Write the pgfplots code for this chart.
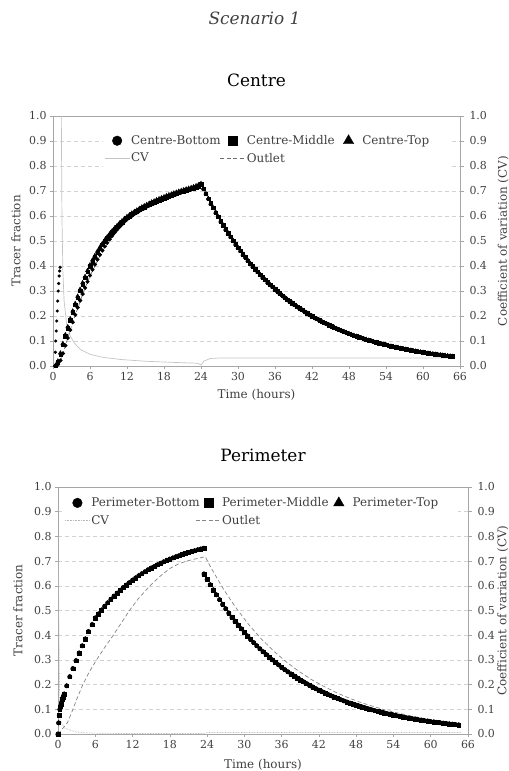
\documentclass[border=0pt]{standalone}
\usepackage{pgfplots}
\pgfplotsset{compat=1.18}
\usepackage{pgfplotstable}
\usepackage{fontspec}
\setmainfont{DejaVu Serif}

\definecolor{axisgray}{HTML}{A6A6A6}
\definecolor{gridgray}{HTML}{D2D2D2}
\definecolor{cvgray}{HTML}{C4C4C4}
\definecolor{outgray}{HTML}{6E6E6E}
\definecolor{outgray2}{HTML}{858585}
\definecolor{textgray}{HTML}{404040}

% Centre: rising part (bottom, middle, top probes)
\pgfplotstableread{
t b m tp
0.4 0.001 0.002 0.003
0.8 0.006 0.015 0.020
1.2 0.022 0.045 0.052
1.6 0.050 0.085 0.090
2.0 0.082 0.120 0.125
2.4 0.112 0.152 0.157
2.8 0.144 0.184 0.189
3.2 0.175 0.215 0.220
3.6 0.205 0.245 0.250
4.0 0.234 0.274 0.279
4.4 0.262 0.302 0.307
4.8 0.288 0.328 0.333
5.2 0.313 0.353 0.358
5.6 0.337 0.377 0.382
6.0 0.362 0.400 0.405
6.4 0.385 0.419 0.424
6.8 0.406 0.437 0.442
7.2 0.426 0.454 0.459
7.6 0.445 0.470 0.475
8.0 0.462 0.485 0.490
8.4 0.478 0.499 0.504
8.8 0.493 0.512 0.517
9.2 0.507 0.524 0.529
9.6 0.521 0.536 0.541
10.0 0.534 0.547 0.552
10.4 0.546 0.557 0.562
10.8 0.557 0.567 0.572
11.2 0.567 0.576 0.581
11.6 0.577 0.585 0.590
12.0 0.586 0.593 0.598
12.4 0.594 0.600 0.605
12.8 0.601 0.607 0.612
13.2 0.608 0.613 0.618
13.6 0.614 0.619 0.624
14.0 0.620 0.625 0.630
14.4 0.626 0.631 0.636
14.8 0.631 0.636 0.641
15.2 0.637 0.641 0.646
15.6 0.642 0.646 0.651
16.0 0.647 0.651 0.656
16.4 0.651 0.655 0.660
16.8 0.656 0.660 0.665
17.2 0.660 0.664 0.669
17.6 0.664 0.668 0.673
18.0 0.668 0.672 0.677
18.4 0.672 0.676 0.681
18.8 0.676 0.680 0.685
19.2 0.680 0.683 0.688
19.6 0.684 0.687 0.692
20.0 0.687 0.690 0.695
20.4 0.691 0.694 0.699
20.8 0.694 0.697 0.702
21.2 0.697 0.700 0.705
21.6 0.700 0.703 0.708
22.0 0.703 0.706 0.711
22.4 0.706 0.709 0.714
22.8 0.709 0.712 0.717
23.2 0.713 0.716 0.721
23.6 0.717 0.720 0.725
24.0 0.726 0.728 0.730
}\cenrise

% Centre: washout after 24 h (all three probes coincide)
\pgfplotstableread{
t v
24.4 .7093
24.8 .6891
25.2 .6696
25.6 .6506
26.0 .6321
26.4 .6142
26.8 .5967
27.2 .5798
27.6 .5633
28.0 .5474
28.4 .5319
28.8 .5168
29.2 .5021
29.6 .4878
30.0 .4740
30.4 .4605
30.8 .4475
31.2 .4348
31.6 .4224
32.0 .4104
32.4 .3988
32.8 .3874
33.2 .3764
33.6 .3657
34.0 .3554
34.4 .3453
34.8 .3355
35.2 .3260
35.6 .3167
36.0 .3077
36.4 .2990
36.8 .2905
37.2 .2822
37.6 .2742
38.0 .2664
38.4 .2589
38.8 .2515
39.2 .2444
39.6 .2374
40.0 .2307
40.4 .2242
40.8 .2178
41.2 .2116
41.6 .2056
42.0 .1998
42.4 .1941
42.8 .1886
43.2 .1832
43.6 .1780
44.0 .1730
44.4 .1681
44.8 .1633
45.2 .1587
45.6 .1542
46.0 .1498
46.4 .1456
46.8 .1414
47.2 .1374
47.6 .1335
48.0 .1297
48.4 .1260
48.8 .1224
49.2 .1190
49.6 .1156
50.0 .1123
50.4 .1091
50.8 .1060
51.2 .1030
51.6 .1001
52.0 .0973
52.4 .0945
52.8 .0919
53.2 .0893
53.6 .0867
54.0 .0843
54.4 .0819
54.8 .0795
55.2 .0773
55.6 .0751
56.0 .0729
56.4 .0708
56.8 .0688
57.2 .0669
57.6 .0650
58.0 .0631
58.4 .0613
58.8 .0596
59.2 .0579
59.6 .0563
60.0 .0547
60.4 .0532
60.8 .0516
61.2 .0502
61.6 .0488
62.0 .0474
62.4 .0460
62.8 .0447
63.2 .0434
63.6 .0422
64.0 .0410
64.4 .0398
64.8 .0387
}\cendecay

% Centre: early steep points near the inlet
\pgfplotstableread{
t v
0.30 0.000
0.38 0.055
0.45 0.100
0.52 0.140
0.60 0.180
0.68 0.220
0.76 0.260
0.84 0.300
0.92 0.330
1.00 0.360
1.08 0.380
1.15 0.395
}\cenearly

\pgfplotstableread{
t v
0.5 0.000
1.0 0.010
1.5 0.040
2.0 0.080
3.0 0.160
4.0 0.230
5.0 0.300
6.0 0.360
8.0 0.460
10.0 0.530
12.0 0.585
15.0 0.640
18.0 0.670
21.0 0.695
24.0 0.725
26.0 0.632
28.0 0.547
30.0 0.474
33.0 0.382
36.0 0.308
40.0 0.231
44.0 0.173
48.0 0.130
52.0 0.097
56.0 0.073
60.0 0.055
64.8 0.039
}\cenoutlet

\pgfplotstableread{
t v
1.35 1.000
1.45 0.600
1.60 0.380
1.80 0.260
2.20 0.170
2.80 0.120
3.50 0.090
4.50 0.065
6.00 0.047
8.00 0.035
11.0 0.026
15.0 0.019
20.0 0.014
23.5 0.011
24.0 0.004
24.5 0.020
25.5 0.030
27.0 0.032
65.0 0.032
}\cencv

% Perimeter probes (the three coincide)
\pgfplotstableread{
t v
0.0 0.000
0.1 0.045
0.2 0.075
0.3 0.100
0.4 0.110
0.5 0.120
0.6 0.130
0.7 0.140
0.8 0.148
0.9 0.155
1.0 0.162
1.4 0.195
1.9 0.232
2.4 0.265
2.9 0.297
3.4 0.328
3.9 0.357
4.4 0.385
4.9 0.415
5.5 0.443
6.0 0.470
6.5 0.486
7.0 0.502
7.5 0.517
8.0 0.531
8.5 0.545
9.0 0.558
9.5 0.570
10.0 0.582
10.5 0.593
11.0 0.603
11.5 0.613
12.0 0.623
12.5 0.632
13.0 0.641
13.5 0.649
14.0 0.657
14.5 0.665
15.0 0.672
15.5 0.678
16.0 0.685
16.5 0.691
17.0 0.697
17.5 0.703
18.0 0.708
18.5 0.713
19.0 0.718
19.5 0.722
20.0 0.727
20.5 0.731
21.0 0.735
21.5 0.739
22.0 0.742
22.5 0.746
23.0 0.749
23.5 0.752
23.5 .6480
24.0 .6257
24.5 .6042
25.0 .5834
25.5 .5634
26.0 .5440
26.5 .5253
27.0 .5072
27.5 .4898
28.0 .4729
28.5 .4567
29.0 .4410
29.5 .4258
30.0 .4112
30.5 .3970
31.0 .3834
31.5 .3702
32.0 .3575
32.5 .3452
33.0 .3333
33.5 .3218
34.0 .3108
34.5 .3001
35.0 .2898
35.5 .2798
36.0 .2702
36.5 .2609
37.0 .2519
37.5 .2433
38.0 .2349
38.5 .2268
39.0 .2190
39.5 .2115
40.0 .2042
40.5 .1972
41.0 .1904
41.5 .1838
42.0 .1775
42.5 .1714
43.0 .1655
43.5 .1598
44.0 .1543
44.5 .1490
45.0 .1439
45.5 .1389
46.0 .1342
46.5 .1295
47.0 .1251
47.5 .1208
48.0 .1166
48.5 .1126
49.0 .1087
49.5 .1050
50.0 .1014
50.5 .0979
51.0 .0945
51.5 .0913
52.0 .0881
52.5 .0851
53.0 .0822
53.5 .0794
54.0 .0766
54.5 .0740
55.0 .0714
55.5 .0690
56.0 .0666
56.5 .0643
57.0 .0621
57.5 .0600
58.0 .0579
58.5 .0559
59.0 .0540
59.5 .0522
60.0 .0504
60.5 .0486
61.0 .0470
61.5 .0453
62.0 .0438
62.5 .0423
63.0 .0408
63.5 .0394
64.0 .0381
64.5 .0368
}\perim

\pgfplotstableread{
t v
0.0 0.000
0.5 0.015
1.0 0.030
1.5 0.045
2.0 0.075
2.4 0.100
3.0 0.140
3.5 0.170
4.0 0.200
5.0 0.250
6.2 0.300
7.5 0.350
8.9 0.400
10.2 0.450
11.5 0.500
13.0 0.550
14.8 0.600
16.5 0.640
18.0 0.670
19.5 0.690
21.0 0.702
22.5 0.711
23.7 0.718
24.7 0.670
26.7 0.584
28.7 0.509
30.7 0.443
32.7 0.386
34.7 0.336
36.7 0.293
38.7 0.255
40.7 0.222
42.7 0.194
44.7 0.169
46.7 0.147
48.7 0.128
50.7 0.112
52.7 0.097
54.7 0.085
56.7 0.074
58.7 0.064
60.7 0.056
62.7 0.049
64.5 0.043
}\perout

\pgfplotstableread{
t v
0.05 0.700
0.3 0.060
1.0 0.025
2.0 0.015
3.0 0.008
5.0 0.004
10.0 0.002
23.5 0.002
24.0 0.006
65.0 0.006
}\percv

\pgfplotsset{
  base/.style={
    scale only axis, anchor=south west,
    xmin=0, xmax=66, ymin=0, ymax=1,
    xtick={0,6,...,66},
    ytick={0,0.1,0.2,0.3,0.4,0.5,0.6,0.7,0.8,0.9,1},
    xtick pos=left, ytick pos=left,
    tick align=outside, major tick length=3bp,
    axis line style={axisgray, line width=0.7bp},
    tick style={axisgray, line width=0.6bp},
    ymajorgrids,
    grid style={gridgray, dash pattern=on 4bp off 3bp, line width=0.5bp},
    /pgf/number format/assume math mode=true,
    y tick label style={/pgf/number format/.cd, fixed, fixed zerofill, precision=1},
    tick label style={font=\fontsize{11}{12}\selectfont, text=textgray},
    label style={font=\fontsize{12}{14}\selectfont, text=textgray},
    xlabel={Time (hours)}, ylabel={Tracer fraction},
    xlabel style={anchor=center}, ylabel style={anchor=center},
    title style={font=\fontsize{17}{20}\selectfont, anchor=center, yshift=-6pt},
    legend columns=3, legend cell align=left,
    legend style={draw=none, fill=white, anchor=north west, inner sep=1bp,
      row sep=3bp,
      font=\fontsize{12}{14}\selectfont, text=textgray,
      /tikz/every even column/.append style={column sep=0bp}},
    clip=false,
  },
  rightax/.style={
    scale only axis, anchor=south west,
    xmin=0, xmax=66, ymin=0, ymax=1,
    axis x line=none, axis y line*=right,
    ytick={0,0.1,0.2,0.3,0.4,0.5,0.6,0.7,0.8,0.9,1},
    tick align=outside, major tick length=4bp,
    axis line style={axisgray, line width=0.7bp},
    tick style={axisgray, line width=0.6bp},
    /pgf/number format/assume math mode=true,
    y tick label style={/pgf/number format/.cd, fixed, fixed zerofill, precision=1},
    tick label style={font=\fontsize{11}{12}\selectfont, text=textgray, xshift=2bp},
    label style={font=\fontsize{12}{14}\selectfont, text=textgray},
    ylabel={Coefficient of variation (CV)},
    ylabel style={anchor=center},
  },
  mleg/.style={legend image code/.code={\path (0bp,0bp) (25bp,0bp); \draw[##1] plot coordinates {(12.5bp,0bp)};}},
  lleg/.style={legend image code/.code={\draw[##1] (0bp,0bp) -- (25bp,0bp);}},
}

\begin{document}
\begin{tikzpicture}
\path[use as bounding box] (0bp,0bp) rectangle (509bp,-771bp);
\node[font=\fontsize{17}{19}\selectfont\itshape, text=textgray] at (254.5bp,-18bp) {Scenario 1};

% ---- Centre ----
\begin{axis}[base, at={(53bp,-366bp)}, width=407bp, height=250bp,
  title={Centre}, title style={at={(0.5,1.144)}},
  xlabel style={at={(axis description cs:0.5,-0.116)}},
  ylabel style={at={(axis description cs:-0.091,0.5)}},
  legend style={at={(0.123,0.935)}, nodes={text width=88bp, inner xsep=1bp, align=left}}]
\addlegendimage{mleg, mark=*, mark size=4.8bp, black}
\addlegendentry{\mbox{Centre-Bottom}}
\addlegendimage{mleg, mark=square*, mark size=4.5bp, black}
\addlegendentry{\mbox{Centre-Middle}}
\addlegendimage{mleg, mark=triangle*, mark size=6bp, black}
\addlegendentry{\mbox{Centre-Top}}
\addlegendimage{lleg, cvgray, line width=0.8bp}
\addlegendentry{CV}
\addlegendimage{lleg, outgray, line width=0.8bp, dash pattern=on 4bp off 2.5bp}
\addlegendentry{Outlet}

\addplot[forget plot, cvgray, line width=0.7bp] table[x=t, y=v] {\cencv};
\addplot[forget plot, outgray, line width=0.7bp, dash pattern=on 4bp off 2.5bp] table[x=t, y=v] {\cenoutlet};

\addplot[forget plot, only marks, mark=*, mark size=1.4bp, black] table[x=t, y=v] {\cenearly};
\addplot[forget plot, only marks, mark=*, mark size=1.9bp, black] table[x=t, y=b] {\cenrise};
\addplot[forget plot, only marks, mark=*, mark size=1.9bp, black] table[x=t, y=v] {\cendecay};
\addplot[forget plot, only marks, mark=square*, mark size=1.7bp, black] table[x=t, y=m] {\cenrise};
\addplot[forget plot, only marks, mark=square*, mark size=1.7bp, black] table[x=t, y=v] {\cendecay};
\addplot[forget plot, only marks, mark=triangle*, mark size=2.4bp, black] table[x=t, y=tp] {\cenrise};
\addplot[forget plot, only marks, mark=triangle*, mark size=2.4bp, black] table[x=t, y=v] {\cendecay};
\end{axis}
\begin{axis}[rightax, at={(53bp,-366bp)}, width=407bp, height=250bp,
  ylabel style={at={(axis description cs:1.106,0.5)}}]
\addplot[forget plot, draw=none] coordinates {(0,0)};
\end{axis}

% ---- Perimeter ----
\begin{axis}[base, at={(58bp,-734bp)}, width=410bp, height=247bp,
  title={Perimeter}, title style={at={(0.5,1.13)}},
  xlabel style={at={(axis description cs:0.5,-0.1255)}},
  ylabel style={at={(axis description cs:-0.0976,0.5)}},
  legend style={at={(0.013,0.97)}, nodes={text width=103bp, inner xsep=1bp, align=left}}]
\addlegendimage{mleg, mark=*, mark size=4.8bp, black}
\addlegendentry{\mbox{Perimeter-Bottom}}
\addlegendimage{mleg, mark=square*, mark size=4.5bp, black}
\addlegendentry{\mbox{Perimeter-Middle}}
\addlegendimage{mleg, mark=triangle*, mark size=6bp, black}
\addlegendentry{\mbox{Perimeter-Top}}
\addlegendimage{lleg, gray!55, line width=0.8bp, dash pattern=on 0.7bp off 0.9bp}
\addlegendentry{CV}
\addlegendimage{lleg, outgray2, line width=0.8bp, dash pattern=on 4bp off 2.5bp}
\addlegendentry{Outlet}

\addplot[forget plot, gray!55, line width=0.7bp, dash pattern=on 0.7bp off 0.9bp] table[x=t, y=v] {\percv};
\addplot[forget plot, outgray2, line width=0.7bp, dash pattern=on 4bp off 2.5bp] table[x=t, y=v] {\perout};
\addplot[forget plot, only marks, mark=triangle*, mark size=2.3bp, black] table[x=t, y=v] {\perim};
\addplot[forget plot, only marks, mark=square*, mark size=1.8bp, black] table[x=t, y=v] {\perim};
\addplot[forget plot, only marks, mark=*, mark size=2.2bp, black] table[x=t, y=v] {\perim};
\end{axis}
\begin{axis}[rightax, at={(58bp,-734bp)}, width=410bp, height=247bp,
  ylabel style={at={(axis description cs:1.085,0.5)}}]
\addplot[forget plot, draw=none] coordinates {(0,0)};
\end{axis}
\end{tikzpicture}
\end{document}
